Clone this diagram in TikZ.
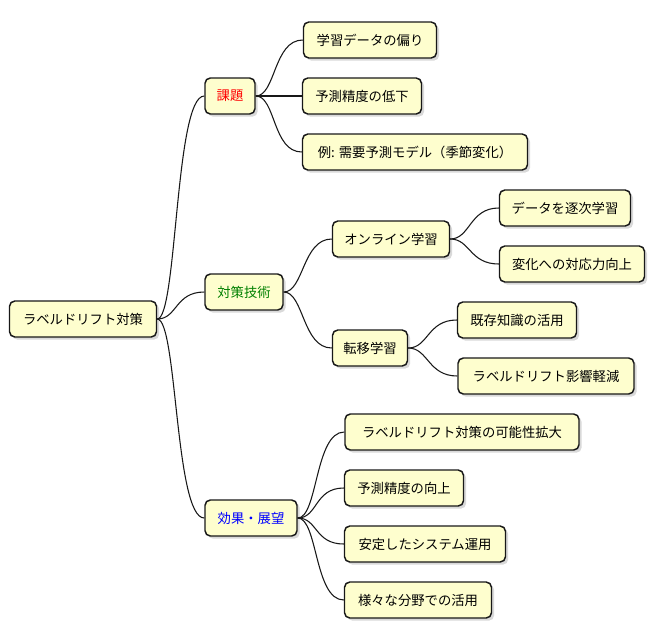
\documentclass[tikz,border=0pt]{standalone}
\usepackage{fontspec}
\newfontfamily\jp{Noto Sans CJK JP}
\usetikzlibrary{shadows}
\definecolor{nodefill}{HTML}{FEFECE}
\definecolor{edge}{HTML}{181818}
\begin{document}
\begin{tikzpicture}[x=0.75pt,y=-0.75pt,
  box/.style={draw=edge,line width=1.1pt,fill=nodefill,rounded corners=4pt,
    font=\jp\fontsize{10pt}{12pt}\selectfont,inner sep=0pt,minimum height=27pt,
    drop shadow={shadow xshift=2pt,shadow yshift=-2pt,opacity=0.3,fill=gray}},
  con/.style={draw=edge,line width=0.8pt}]
\useasboundingbox (0,0) rectangle (656,640);
\node[box,minimum width=147*0.75pt] (root) at (83,319) {ラベルドリフト対策};
\node[box,minimum width=50*0.75pt,text=red] (a) at (230,96) {課題};
\node[box,minimum width=78*0.75pt,text=green!50!black] (b) at (244,292) {対策技術};
\node[box,minimum width=92*0.75pt,text=blue] (c) at (251,518) {効果・展望};
\node[box,minimum width=133*0.75pt] (a1) at (370,40) {学習データの偏り};
\node[box,minimum width=119*0.75pt] (a2) at (362,96) {予測精度の低下};
\node[box,minimum width=225*0.75pt] (a3) at (415,152) {例: 需要予測モデル（季節変化）};
\node[box,minimum width=117*0.75pt] (b1) at (391,239) {オンライン学習};
\node[box,minimum width=131*0.75pt] (b11) at (565,208) {データを逐次学習};
\node[box,minimum width=145*0.75pt] (b12) at (572,264) {変化への対応力向上};
\node[box,minimum width=75*0.75pt] (b2) at (370,348) {転移学習};
\node[box,minimum width=119*0.75pt] (b21) at (517,320) {既存知識の活用};
\node[box,minimum width=176*0.75pt] (b22) at (546,376) {ラベルドリフト影響軽減};
\node[box,minimum width=234*0.75pt] (c1) at (462,432) {ラベルドリフト対策の可能性拡大};
\node[box,minimum width=119*0.75pt] (c2) at (404,488) {予測精度の向上};
\node[box,minimum width=161*0.75pt] (c3) at (425,544) {安定したシステム運用};
\node[box,minimum width=147*0.75pt] (c4) at (418,600) {様々な分野での活用};
\begin{scope}[on background layer/.style={}]
\foreach \p/\c in {root/a,root/b,root/c,a/a1,a/a2,a/a3,b/b1,b/b2,b1/b11,b1/b12,b2/b21,b2/b22,c/c1,c/c2,c/c3,c/c4}{
  \draw[con] (\p.east) .. controls ([xshift=15pt]\p.east) and ([xshift=-22pt]\c.west) .. (\c.west);
}
\end{scope}
\end{tikzpicture}
\end{document}
